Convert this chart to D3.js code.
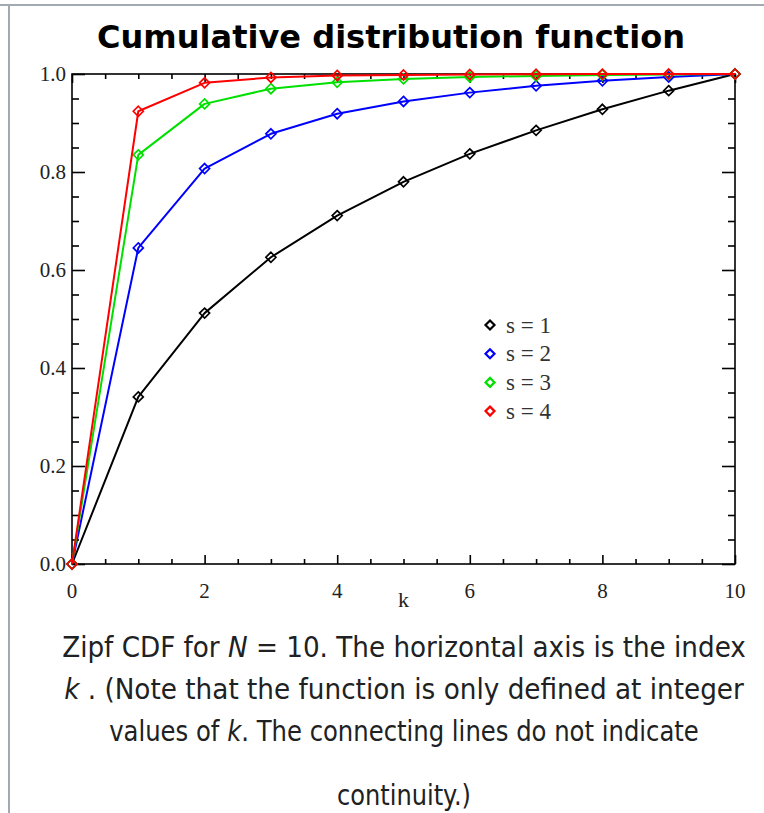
<!DOCTYPE html>
<html>
<head>
<meta charset="utf-8">
<script src="https://cdn.jsdelivr.net/npm/d3@7"></script>
<style>
  html, body { margin: 0; padding: 0; background: #fff; }
  svg { display: block; }
</style>
</head>
<body>
<svg id="chart" width="764" height="813"></svg>
<script>
// ---- data ----
const kValues = [0, 1, 2, 3, 4, 5, 6, 7, 8, 9, 10];
const seriesNames = ["s = 1", "s = 2", "s = 3", "s = 4"];
const seriesColors = ["#000000", "#0000ff", "#00e000", "#ff0000"];
const cdfS1 = [0, 0.341, 0.512, 0.626, 0.711, 0.780, 0.837, 0.885, 0.928, 0.966, 1.0];
const cdfS2 = [0, 0.645, 0.807, 0.878, 0.919, 0.944, 0.962, 0.976, 0.986, 0.994, 1.0];
const cdfS3 = [0, 0.835, 0.939, 0.970, 0.983, 0.990, 0.994, 0.996, 0.998, 0.999, 1.0];
const cdfS4 = [0, 0.924, 0.982, 0.993, 0.997, 0.998, 0.999, 0.9995, 0.9998, 0.9999, 1.0];
const xTickLabels = [0, 2, 4, 6, 8, 10];
const yTickLabels = [0.0, 0.2, 0.4, 0.6, 0.8, 1.0];
const titleText = "Cumulative distribution function";
const xAxisLabel = "k";

const allSeries = [cdfS1, cdfS2, cdfS3, cdfS4];

const svg = d3.select("#chart");

// page frame (thumbnail border)
svg.append("line").attr("x1", 0).attr("x2", 764).attr("y1", 5).attr("y2", 5)
  .attr("stroke", "#a2a9b1").attr("stroke-width", 2);
svg.append("line").attr("x1", 9).attr("x2", 9).attr("y1", 5).attr("y2", 813)
  .attr("stroke", "#a2a9b1").attr("stroke-width", 2);

// fit a text horizontally to a target span by scaling around its centre
function fitText(sel, cx, targetWidth) {
  const w = sel.node().getComputedTextLength();
  sel.attr("x", 0).attr("transform", `translate(${cx},0) scale(${targetWidth / w},1)`);
}

// title
const title = svg.append("text")
  .attr("y", 48)
  .attr("text-anchor", "middle")
  .attr("font-family", "DejaVu Sans")
  .attr("font-weight", "bold")
  .attr("font-size", 32)
  .attr("fill", "#000")
  .text(titleText);
fitText(title, 391, 588);

// scales
const x = d3.scaleLinear().domain([0, 10]).range([72, 735]);
const y = d3.scaleLinear().domain([0, 1]).range([564, 74]);

const serif = "Liberation Serif, Times New Roman, serif";
const axisColor = "#000";

const g = svg.append("g");
g.append("rect")
  .attr("x", x(0)).attr("y", y(1))
  .attr("width", x(10) - x(0)).attr("height", y(0) - y(1))
  .attr("fill", "none").attr("stroke", axisColor).attr("stroke-width", 1.6);

const xMajor = d3.range(0, 10.001, 2);
const xMinor = d3.range(0, 10.001, 0.5).filter(v => Math.abs(v / 2 - Math.round(v / 2)) > 1e-6);
const yMajor = d3.range(0, 1.0001, 0.2);
const yMinor = d3.range(0, 1.0001, 0.05).filter(v => Math.abs(v / 0.2 - Math.round(v / 0.2)) > 1e-6);

function styleAxis(sel) {
  sel.select(".domain").remove();
  sel.selectAll(".tick line").attr("stroke", axisColor).attr("stroke-width", 1.6);
  sel.selectAll(".tick text").remove();
}

// bottom
g.append("g").attr("transform", `translate(0,${y(0)})`)
  .call(d3.axisTop(x).tickValues(xMajor).tickSize(9).tickFormat("")).call(styleAxis);
g.append("g").attr("transform", `translate(0,${y(0)})`)
  .call(d3.axisTop(x).tickValues(xMinor).tickSize(5).tickFormat("")).call(styleAxis);
// top
g.append("g").attr("transform", `translate(0,${y(1)})`)
  .call(d3.axisBottom(x).tickValues(xMajor).tickSize(9).tickFormat("")).call(styleAxis);
g.append("g").attr("transform", `translate(0,${y(1)})`)
  .call(d3.axisBottom(x).tickValues(xMinor).tickSize(5).tickFormat("")).call(styleAxis);
// left
g.append("g").attr("transform", `translate(${x(0)},0)`)
  .call(d3.axisRight(y).tickValues(yMajor).tickSize(13).tickFormat("")).call(styleAxis);
g.append("g").attr("transform", `translate(${x(0)},0)`)
  .call(d3.axisRight(y).tickValues(yMinor).tickSize(7).tickFormat("")).call(styleAxis);
// right
g.append("g").attr("transform", `translate(${x(10)},0)`)
  .call(d3.axisLeft(y).tickValues(yMajor).tickSize(13).tickFormat("")).call(styleAxis);
g.append("g").attr("transform", `translate(${x(10)},0)`)
  .call(d3.axisLeft(y).tickValues(yMinor).tickSize(7).tickFormat("")).call(styleAxis);

// tick labels
g.selectAll(".xlab").data(xTickLabels).join("text")
  .attr("x", d => x(d)).attr("y", 598)
  .attr("text-anchor", "middle")
  .attr("font-family", serif).attr("font-size", 21).attr("fill", "#222")
  .text(d => d);
g.selectAll(".ylab").data(yTickLabels).join("text")
  .attr("x", 66).attr("y", d => y(d) + 7)
  .attr("text-anchor", "end")
  .attr("font-family", serif).attr("font-size", 21).attr("fill", "#222")
  .text(d => d.toFixed(1));
g.append("text")
  .attr("x", (x(0) + x(10)) / 2).attr("y", 607)
  .attr("text-anchor", "middle")
  .attr("font-family", serif).attr("font-size", 22).attr("fill", "#222")
  .text(xAxisLabel);

// lines and markers
const line = d3.line().x((d, i) => x(kValues[i])).y(d => y(d));
const diamond = r => `M0,${-r}L${r},0L0,${r}L${-r},0Z`;

allSeries.forEach((vals, si) => {
  const col = seriesColors[si];
  g.append("path").datum(vals)
    .attr("d", line)
    .attr("fill", "none").attr("stroke", col).attr("stroke-width", 2)
    .attr("stroke-linejoin", "round");
  g.selectAll(".m" + si).data(vals).join("path")
    .attr("transform", (d, i) => `translate(${x(kValues[i])},${y(d)})`)
    .attr("d", diamond(5))
    .attr("fill", "none").attr("stroke", col).attr("stroke-width", 1.7);
});

// legend
const legend = g.append("g");
seriesNames.forEach((name, i) => {
  const ly = 325 + i * 28.7;
  legend.append("path")
    .attr("transform", `translate(490,${ly})`)
    .attr("d", diamond(4.5))
    .attr("fill", "none").attr("stroke", seriesColors[i]).attr("stroke-width", 2.2);
  legend.append("text")
    .attr("x", 506).attr("y", ly + 7.5)
    .attr("font-family", serif).attr("font-size", 23).attr("fill", "#333")
    .text(name);
});

// caption: each line fitted to the span it covers in the reference
const capLines = [
  { y: 657, w: 684, parts: [["Zipf CDF for ", false], ["N", true], [" = 10. The horizontal axis is the index", false]] },
  { y: 699, w: 680, parts: [["k", true], [" . (Note that the function is only defined at integer", false]] },
  { y: 741, w: 590, parts: [["values of ", false], ["k", true], [". The connecting lines do not indicate", false]] },
  { y: 805, w: 134, parts: [["continuity.)", false]] }
];
const cap = svg.append("g")
  .attr("font-family", "DejaVu Sans")
  .attr("font-size", 29).attr("fill", "#202122")
  .attr("text-anchor", "middle");
capLines.forEach(l => {
  const t = cap.append("text").attr("y", l.y);
  l.parts.forEach(p => t.append("tspan").attr("font-style", p[1] ? "italic" : "normal").text(p[0]));
  fitText(t, 404, l.w);
});
</script>
</body>
</html>
